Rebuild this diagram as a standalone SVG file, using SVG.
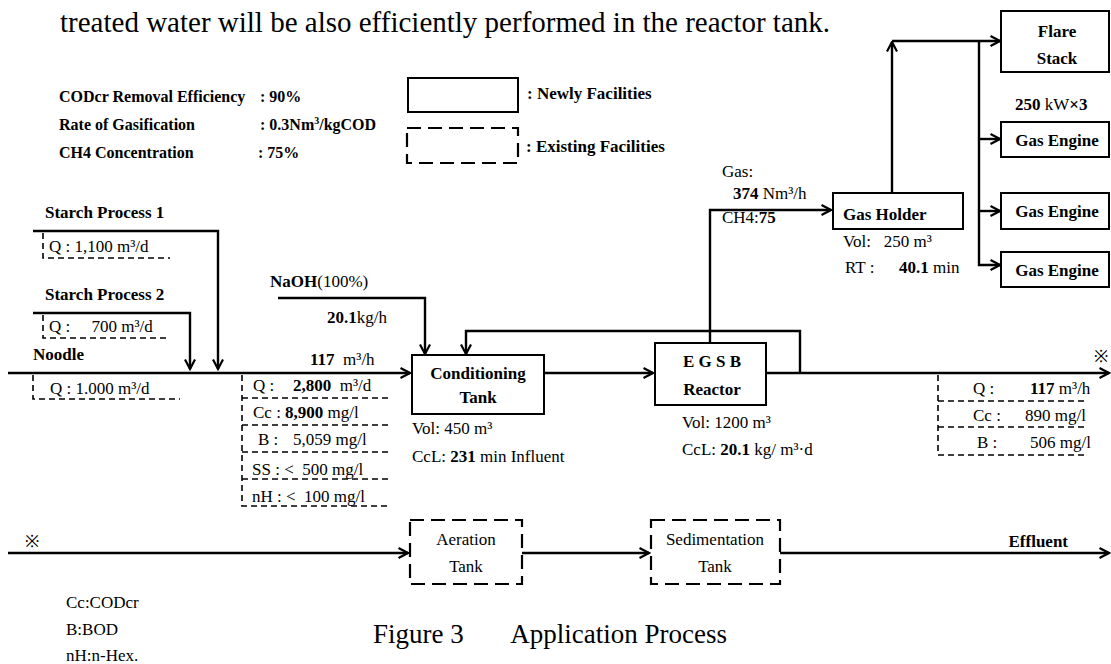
<svg xmlns="http://www.w3.org/2000/svg" width="1111" height="664" viewBox="0 0 1111 664">
<style>
text{font-family:"Liberation Serif","Times New Roman",serif;fill:#000;white-space:pre}
.big{font-size:29px}
.cap{font-size:27px}
.lg{font-size:16px;font-weight:bold}
.b{font-size:17px;font-weight:bold}
.r{font-size:17px}
.bb{font-weight:bold}
.c{text-anchor:middle}
.ln{fill:none;stroke:#000;stroke-width:2.4}
.box{fill:#fff;stroke:#000;stroke-width:2}
.dbox{fill:#fff;stroke:#000;stroke-width:2.2;stroke-dasharray:14 7}
.dl{fill:none;stroke:#000;stroke-width:1.6;stroke-dasharray:6 4}
</style>
<defs>
<marker id="ar" viewBox="0 0 12 12" refX="10.5" refY="6" markerWidth="12" markerHeight="12" markerUnits="userSpaceOnUse" orient="auto">
<path d="M1,1 L10.5,6 L1,11" fill="none" stroke="#000" stroke-width="2.2"/>
</marker>
</defs>
<rect width="1111" height="664" fill="#fff"/>

<text class="big" x="60" y="32">treated water will be also efficiently performed in the reactor tank.</text>

<g id="legend-params">
<text class="lg" x="59" y="102">CODcr Removal Efficiency</text>
<text class="lg" x="260" y="102">: 90%</text>
<text class="lg" x="59" y="130">Rate of Gasification</text>
<text class="lg" x="260" y="130">: 0.3Nm<tspan dy="-6" font-size="10">3</tspan><tspan dy="6">/kgCOD</tspan></text>
<text class="lg" x="59" y="158">CH4 Concentration</text>
<text class="lg" x="258" y="158">: 75%</text>
</g>

<g id="legend-boxes">
<rect class="box" x="408" y="78" width="110" height="34"/>
<text class="b" x="527" y="99">: Newly Facilities</text>
<rect class="dbox" x="407" y="128" width="111" height="35"/>
<text class="b" x="526" y="152">: Existing Facilities</text>
</g>

<g id="connectors">
<path class="ln" d="M33,231 H218 V369" marker-end="url(#ar)"/>
<path class="ln" d="M33,313 H190 V369" marker-end="url(#ar)"/>
<path class="ln" d="M8,373 H410" marker-end="url(#ar)"/>
<path class="ln" d="M278,298 H425 V354" marker-end="url(#ar)"/>
<path class="ln" d="M800,373 V331 H466 V354" marker-end="url(#ar)"/>
<path class="ln" d="M544,373 H653" marker-end="url(#ar)"/>
<path class="ln" d="M766,373 H1109" marker-end="url(#ar)"/>
<path class="ln" d="M710,343 V210 H831" marker-end="url(#ar)"/>
<path class="ln" d="M892,193 V42" marker-end="url(#ar)"/>
<path class="ln" d="M892,41 H1000" marker-end="url(#ar)"/>
<path class="ln" d="M979,41 V265 H1000" marker-end="url(#ar)"/>
<path class="ln" d="M979,139 H1000" marker-end="url(#ar)"/>
<path class="ln" d="M979,211 H1000" marker-end="url(#ar)"/>
<path class="ln" d="M8,553 H408" marker-end="url(#ar)"/>
<path class="ln" d="M522,553 H649" marker-end="url(#ar)"/>
<path class="ln" d="M780,553 H1109" marker-end="url(#ar)"/>
</g>

<g id="starch1">
<text class="b" x="45" y="218">Starch Process 1</text>
<path class="dl" d="M43,233 V258 H170"/>
<text class="r" x="49" y="252">Q : 1,100 m³/d</text>
</g>
<g id="starch2">
<text class="b" x="45" y="300">Starch Process 2</text>
<path class="dl" d="M43,315 V338 H168"/>
<text class="r" x="49" y="332">Q :     700 m³/d</text>
</g>
<g id="noodle">
<text class="b" x="33" y="360">Noodle</text>
<path class="dl" d="M33,375 V399 H180"/>
<text class="r" x="50" y="394">Q : 1.000 m³/d</text>
</g>

<g id="influent">
<text class="r" x="310" y="365"><tspan class="bb">117</tspan>  m³/h</text>
<path class="dl" d="M242,375 V506 H390 M242,398 H390 M242,425 H390 M242,452 H390 M242,479 H390"/>
<text class="r" x="253" y="391">Q :</text>
<text class="r" x="293" y="391"><tspan class="bb">2,800</tspan>  m³/d</text>
<text class="r" x="253" y="418">Cc : <tspan class="bb">8,900</tspan> mg/l</text>
<text class="r" x="258" y="445">B :</text>
<text class="r" x="293" y="445">5,059 mg/l</text>
<text class="r" x="252" y="475">SS : &lt;  500 mg/l</text>
<text class="r" x="252" y="502">nH : &lt;  100 mg/l</text>
</g>

<g id="naoh">
<text class="r" x="270" y="287"><tspan class="bb">NaOH</tspan>(100%)</text>
<text class="r" x="327" y="323"><tspan class="bb">20.1</tspan>kg/h</text>
</g>

<g id="conditioning">
<rect class="box" x="412" y="355" width="132" height="59"/>
<text class="b c" x="478" y="379">Conditioning</text>
<text class="b c" x="478" y="403">Tank</text>
<text class="r" x="412" y="434">Vol: 450 m³</text>
<text class="r" x="412" y="462">CcL: <tspan class="bb">231</tspan> min Influent</text>
</g>

<g id="egsb">
<rect class="box" x="655" y="343" width="111" height="62"/>
<text class="b c" x="712" y="367">E G S B</text>
<text class="b c" x="712" y="395">Reactor</text>
<text class="r" x="682" y="428">Vol: 1200 m³</text>
<text class="r" x="682" y="455">CcL: <tspan class="bb">20.1</tspan> kg/ m³·d</text>
</g>

<g id="gas">
<text class="r" x="722" y="177">Gas:</text>
<text class="r" x="733" y="199"><tspan class="bb">374</tspan> Nm³/h</text>
<text class="r" x="722" y="223">CH4:<tspan class="bb">75</tspan></text>
</g>

<g id="gasholder">
<rect class="box" x="833" y="193" width="130" height="36"/>
<text class="b" x="843" y="220">Gas Holder</text>
<text class="r" x="843" y="247">Vol:   250 m³</text>
<text class="r" x="845" y="273">RT :</text>
<text class="r" x="899" y="273"><tspan class="bb">40.1</tspan> min</text>
</g>

<g id="flare">
<rect class="box" x="1001" y="11" width="108" height="61"/>
<text class="b c" x="1057" y="37">Flare</text>
<text class="b c" x="1057" y="64">Stack</text>
</g>
<text class="r" x="1015" y="110"><tspan class="bb">250</tspan> kW<tspan class="bb">×3</tspan></text>
<g id="engine1">
<rect class="box" x="1001" y="122" width="108" height="35"/>
<text class="b c" x="1057" y="146">Gas Engine</text>
</g>
<g id="engine2">
<rect class="box" x="1001" y="193" width="108" height="36"/>
<text class="b c" x="1057" y="217">Gas Engine</text>
</g>
<g id="engine3">
<rect class="box" x="1001" y="252" width="108" height="35"/>
<text class="b c" x="1057" y="276">Gas Engine</text>
</g>

<g id="treated">
<text class="r" x="1094" y="362">※</text>
<path class="dl" d="M938,375 V455 H1085 M938,401 H1085 M938,427 H1085"/>
<text class="r" x="973" y="394">Q :</text>
<text class="r" x="1030" y="394"><tspan class="bb">117</tspan> m³/h</text>
<text class="r" x="973" y="421">Cc :</text>
<text class="r" x="1025" y="421">890 mg/l</text>
<text class="r" x="977" y="448">B :</text>
<text class="r" x="1030" y="448">506 mg/l</text>
</g>

<text class="r" x="25" y="547">※</text>
<g id="aeration">
<rect class="dbox" x="410" y="520" width="112" height="64"/>
<text class="r c" x="466" y="545">Aeration</text>
<text class="r c" x="466" y="572">Tank</text>
</g>
<g id="sedimentation">
<rect class="dbox" x="651" y="520" width="129" height="64"/>
<text class="r c" x="715" y="545">Sedimentation</text>
<text class="r c" x="715" y="572">Tank</text>
</g>
<text class="b" x="1068" y="547" text-anchor="end">Effluent</text>

<g id="abbrev">
<text class="r" x="66" y="608">Cc:CODcr</text>
<text class="r" x="66" y="635">B:BOD</text>
<text class="r" x="66" y="661">nH:n-Hex.</text>
</g>
<text class="cap" x="373" y="643">Figure 3</text>
<text class="cap" x="727" y="643" text-anchor="end">Application Process</text>
</svg>
